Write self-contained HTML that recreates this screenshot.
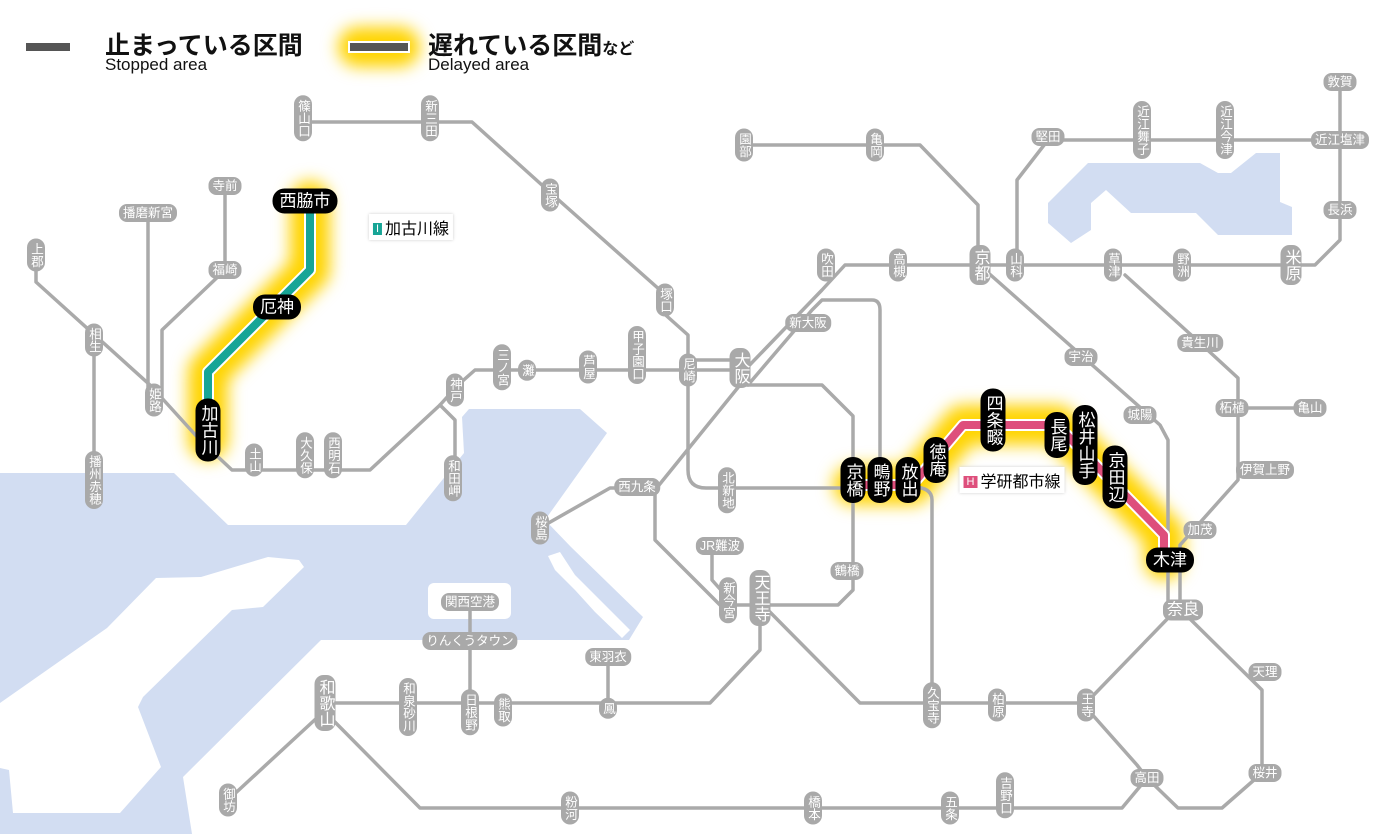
<!DOCTYPE html>
<html><head><meta charset="utf-8"><style>
body{margin:0;width:1400px;height:834px;overflow:hidden;background:#fff;font-family:"Liberation Sans","Noto Sans CJK JP",sans-serif}
#m{position:absolute;left:0;top:0}
.s{position:absolute;background:#a9a9a9;color:#fff;border-radius:8px;font-size:12.5px;line-height:14px;padding:2px 4px;transform:translate(-50%,-50%);white-space:nowrap;font-family:"Liberation Sans","Noto Sans CJK JP",sans-serif}
.v{writing-mode:vertical-rl;padding:4px 2px;border-radius:9px}
.L{font-size:16px;line-height:17px}
.b{background:#000;font-size:17px;line-height:19px;border-radius:12px;padding:3px 7px}
.b.v{padding:6px 3px}
.t{position:absolute;white-space:nowrap;color:#111}
.tag{position:absolute;background:#fff;font-size:16px;padding:1px 4px;transform:translate(-50%,-50%);white-space:nowrap;box-shadow:0 0 3px #ccc}
.tag i{font-style:normal;color:#fff;font-size:11px;padding:0 3px;margin-right:3px;vertical-align:2px}
</style></head><body>
<svg id="m" width="1400" height="834" viewBox="0 0 1400 834">
<defs><filter id="g" x="-30%" y="-30%" width="160%" height="160%"><feGaussianBlur stdDeviation="8"/></filter></defs>
<path fill="#d2ddf2" d="M0,473 H174 L228,525 H406 L464,453 L462,417 L469,409 H580 L607,433 L545,520 L571,547 L643,617 L629,640 H321 L183,777 L192,834 H0Z"/>
<path fill="#fff" d="M268,557 L299,560 L304,567 L263,607 L232,610 L143,697 L138,707 L161,767 L120,813 L13,813 L9,770 L0,768 L0,703 L107,628 L156,578 L201,577Z"/>
<rect x="428" y="583" width="83" height="36" rx="6" fill="#fff"/>
<path fill="#fff" d="M548,556 L560,552 L575,575 L600,600 L630,630 L622,638 L595,612 L575,590 L555,570Z"/>
<path fill="#d2ddf2" d="M1088,163 H1200 L1218,173 H1231 L1256,153 H1280 V202 L1292,207 V235 H1218 L1196,213 H1131 L1106,190 L1091,203 V230 L1071,243 L1048,223 V203Z"/>
<g fill="none" stroke-linejoin="round" stroke-linecap="round">
<g stroke="#ffd400" stroke-width="40" filter="url(#g)">
<path d="M208,440 V372 L272,308 L310,270 V201"/>
<path d="M853,485 H912 L963,425 H1057 L1164,535 V560"/>
<path d="M358,47 H400"/>
</g>
<g stroke="#aaa" stroke-width="3.5">
<path d="M36,255 V282 L150,385 L200,440 L232,470 H370 L440,405 L458,385 L475,370 H740"/>
<path d="M688,360 H745"/>
<path d="M94,330 V500"/>
<path d="M225,180 V270 L162,330 V400"/>
<path d="M148,215 V390"/>
<path d="M440,405 L455,420 V478"/>
<path d="M303,122 H472 L553,195 L660,290 V310 L688,335 V470 Q688,488 706,488 H853"/>
<path d="M740,385 H822 L853,416 V590 L838,605 H720 L655,540 V490 L740,385"/>
<path d="M655,488 H610 L545,525"/>
<path d="M712,546 V580 L728,598"/>
<path d="M740,375 L822,290 L845,265 H1315 L1340,240 V82"/>
<path d="M748,385 L812,310 L822,300 H872 Q880,300 880,310 V480"/>
<path d="M745,145 H920 L978,205 V265"/>
<path d="M1017,265 V180 L1048,140 H1340"/>
<path d="M985,270 L1160,425 L1168,440 V610"/>
<path d="M1125,275 L1200,343 L1238,378 V480 L1180,545 V610"/>
<path d="M1240,408 H1310"/>
<path d="M912,487 Q932,487 932,500 V705"/>
<path d="M758,600 L860,703 H1086 L1173,613"/>
<path d="M1183,612 L1262,690 V773 L1222,808 H1178 L1147,778"/>
<path d="M1090,712 L1137,765 L1147,778 L1122,808 H420 L325,712"/>
<path d="M760,605 V650 L710,703 H325"/>
<path d="M320,715 L228,800"/>
<path d="M608,657 V703"/>
<path d="M470,602 V712"/>
</g>
<path stroke="#fff" stroke-width="12" d="M208,440 V372 L272,308 L310,270 V201"/>
<path stroke="#17a596" stroke-width="8" d="M208,440 V372 L272,308 L310,270 V201"/>
<path stroke="#fff" stroke-width="12" d="M853,485 H912 L963,425 H1057 L1164,535 V560"/>
<path stroke="#de4f7c" stroke-width="8" d="M853,485 H912 L963,425 H1057 L1164,535 V560"/>
<path stroke="#555" stroke-width="8" stroke-linecap="butt" d="M26,47 H70"/>
<path stroke="#fff" stroke-width="12" stroke-linecap="butt" d="M348,47 H410"/>
<path stroke="#555" stroke-width="8" stroke-linecap="butt" d="M350,47 H408"/>
</g>
</svg>
<div class="t" style="left:105px;top:26px;font-size:25px;font-weight:bold">止まっている区間</div>
<div class="t" style="left:105px;top:55px;font-size:17px">Stopped area</div>
<div class="t" style="left:428px;top:26px;font-size:25px;font-weight:bold">遅れている区間<span style="font-size:16px">など</span></div>
<div class="t" style="left:428px;top:55px;font-size:17px">Delayed area</div>
<div class="tag" style="left:411px;top:227px"><i style="background:#17a596">I</i>加古川線</div>
<div class="tag" style="left:1012px;top:480px"><i style="background:#de4f7c">H</i>学研都市線</div>
<div class="s v" style="left:303px;top:118px">篠山口</div>
<div class="s v" style="left:430px;top:118px">新三田</div>
<div class="s v" style="left:550px;top:195px">宝塚</div>
<div class="s v" style="left:665px;top:300px">塚口</div>
<div class="s v" style="left:688px;top:370px">尼崎</div>
<div class="s v L" style="left:740px;top:368px">大阪</div>
<div class="s v" style="left:637px;top:355px">甲子園口</div>
<div class="s v" style="left:588px;top:367px">芦屋</div>
<div class="s v" style="left:527px;top:370px">灘</div>
<div class="s v" style="left:502px;top:367px">三ノ宮</div>
<div class="s v" style="left:455px;top:390px">神戸</div>
<div class="s v" style="left:453px;top:478px">和田岬</div>
<div class="s v" style="left:333px;top:455px">西明石</div>
<div class="s v" style="left:305px;top:455px">大久保</div>
<div class="s v" style="left:254px;top:460px">土山</div>
<div class="s v" style="left:154px;top:400px">姫路</div>
<div class="s v" style="left:94px;top:340px">相生</div>
<div class="s v" style="left:36px;top:255px">上郡</div>
<div class="s v" style="left:94px;top:480px">播州赤穂</div>
<div class="s v" style="left:727px;top:490px">北新地</div>
<div class="s v" style="left:728px;top:600px">新今宮</div>
<div class="s v L" style="left:760px;top:598px">天王寺</div>
<div class="s v" style="left:744px;top:145px">園部</div>
<div class="s v" style="left:875px;top:145px">亀岡</div>
<div class="s v L" style="left:980px;top:265px">京都</div>
<div class="s v" style="left:1015px;top:265px">山科</div>
<div class="s v" style="left:1142px;top:130px">近江舞子</div>
<div class="s v" style="left:1225px;top:130px">近江今津</div>
<div class="s v" style="left:1113px;top:265px">草津</div>
<div class="s v" style="left:1182px;top:265px">野洲</div>
<div class="s v L" style="left:1291px;top:265px">米原</div>
<div class="s v" style="left:826px;top:265px">吹田</div>
<div class="s v" style="left:898px;top:265px">高槻</div>
<div class="s v" style="left:932px;top:705px">久宝寺</div>
<div class="s v" style="left:997px;top:705px">柏原</div>
<div class="s v" style="left:1086px;top:705px">王寺</div>
<div class="s v L" style="left:325px;top:703px">和歌山</div>
<div class="s v" style="left:408px;top:707px">和泉砂川</div>
<div class="s v" style="left:470px;top:712px">日根野</div>
<div class="s v" style="left:503px;top:710px">熊取</div>
<div class="s v" style="left:608px;top:708px">鳳</div>
<div class="s v" style="left:228px;top:800px">御坊</div>
<div class="s v" style="left:570px;top:808px">粉河</div>
<div class="s v" style="left:813px;top:808px">橋本</div>
<div class="s v" style="left:950px;top:808px">五条</div>
<div class="s v" style="left:1005px;top:795px">吉野口</div>
<div class="s v" style="left:540px;top:528px">桜島</div>
<div class="s" style="left:148px;top:213px">播磨新宮</div>
<div class="s" style="left:225px;top:186px">寺前</div>
<div class="s" style="left:225px;top:270px">福崎</div>
<div class="s" style="left:637px;top:487px">西九条</div>
<div class="s" style="left:720px;top:546px">JR難波</div>
<div class="s" style="left:847px;top:571px">鶴橋</div>
<div class="s" style="left:808px;top:323px">新大阪</div>
<div class="s" style="left:1081px;top:357px">宇治</div>
<div class="s" style="left:1140px;top:415px">城陽</div>
<div class="s" style="left:1200px;top:343px">貴生川</div>
<div class="s" style="left:1232px;top:408px">柘植</div>
<div class="s" style="left:1310px;top:408px">亀山</div>
<div class="s" style="left:1265px;top:470px">伊賀上野</div>
<div class="s" style="left:1200px;top:530px">加茂</div>
<div class="s L" style="left:1183px;top:610px">奈良</div>
<div class="s" style="left:1265px;top:672px">天理</div>
<div class="s" style="left:1265px;top:773px">桜井</div>
<div class="s" style="left:1147px;top:778px">高田</div>
<div class="s" style="left:608px;top:657px">東羽衣</div>
<div class="s" style="left:470px;top:602px">関西空港</div>
<div class="s" style="left:470px;top:641px">りんくうタウン</div>
<div class="s" style="left:1048px;top:137px">堅田</div>
<div class="s" style="left:1340px;top:140px">近江塩津</div>
<div class="s" style="left:1340px;top:82px">敦賀</div>
<div class="s" style="left:1340px;top:210px">長浜</div>
<div class="s b" style="left:305px;top:201px">西脇市</div>
<div class="s b" style="left:277px;top:307px">厄神</div>
<div class="s b" style="left:1170px;top:560px">木津</div>
<div class="s b v" style="left:208px;top:430px">加古川</div>
<div class="s b v" style="left:853px;top:480px">京橋</div>
<div class="s b v" style="left:880px;top:480px">鴫野</div>
<div class="s b v" style="left:908px;top:480px">放出</div>
<div class="s b v" style="left:936px;top:460px">徳庵</div>
<div class="s b v" style="left:993px;top:420px">四条畷</div>
<div class="s b v" style="left:1057px;top:435px">長尾</div>
<div class="s b v" style="left:1085px;top:445px">松井山手</div>
<div class="s b v" style="left:1115px;top:477px">京田辺</div>
</body></html>
